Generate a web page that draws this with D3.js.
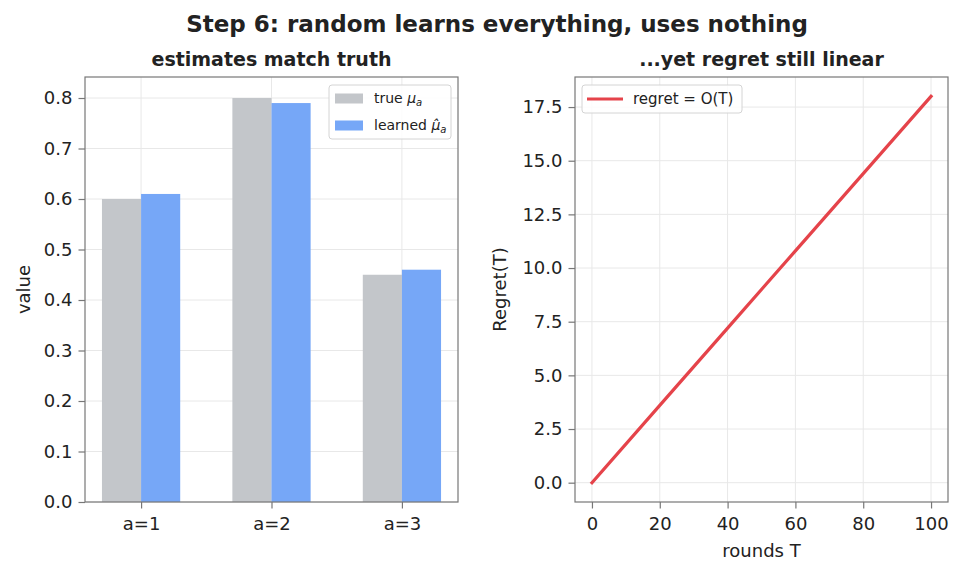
<!DOCTYPE html>
<html>
<head>
<meta charset="utf-8">
<script src="https://cdn.jsdelivr.net/npm/d3@7"></script>
<style>
  body { margin: 0; background: #fff; }
  svg text { font-family: "DejaVu Sans", sans-serif; fill: #222; }
</style>
</head>
<body>
<svg id="chart" width="963" height="575"></svg>
<script>
// bar chart data
const arms = ["a=1", "a=2", "a=3"];
const trueMu = [0.60, 0.80, 0.45];
const learnedMu = [0.61, 0.79, 0.46];
const barTicks = [0.0, 0.1, 0.2, 0.3, 0.4, 0.5, 0.6, 0.7, 0.8];

// regret line data
const rounds = [0, 20, 40, 60, 80, 100];
const regret = [0, 3.6, 7.2, 10.8, 14.4, 18.0];
const regretTicks = [0, 2.5, 5, 7.5, 10, 12.5, 15, 17.5];
const roundTicks = [0, 20, 40, 60, 80, 100];

const grey = "#c3c6ca", blue = "#76a7f7", red = "#e5434a";
const spine = "#777", gridCol = "#e8e8e8";
const tickSize = 18;

const svg = d3.select("#chart");

svg.append("text")
  .attr("x", 497).attr("y", 32)
  .attr("text-anchor", "middle")
  .style("font-size", "23px").style("font-weight", "bold")
  .text("Step 6: random learns everything, uses nothing");

function frame(g, w, h) {
  g.append("rect").attr("width", w).attr("height", h)
    .attr("fill", "none").attr("stroke", spine).attr("stroke-width", 1.2);
}

function styleAxis(g) {
  g.select(".domain").remove();
  g.selectAll(".tick line").attr("stroke", spine).attr("stroke-width", 1.2);
  g.selectAll(".tick text").style("font-size", tickSize + "px").attr("fill", "#222");
}

// ---- left panel: estimates vs truth
const L = { x: 85, y: 77, w: 373, h: 425 };
const left = svg.append("g").attr("transform", `translate(${L.x},${L.y})`);

const x0 = d3.scaleLinear().domain([-0.43, 2.43]).range([0, L.w]);
const y0 = d3.scaleLinear().domain([0, 0.8416]).range([L.h, 0]);
const bw = 0.3;

left.append("g").selectAll("line").data(barTicks).join("line")
  .attr("x1", 0).attr("x2", L.w)
  .attr("y1", d => y0(d)).attr("y2", d => y0(d))
  .attr("stroke", gridCol);
left.append("g").selectAll("line").data(arms).join("line")
  .attr("y1", 0).attr("y2", L.h)
  .attr("x1", (d, i) => x0(i)).attr("x2", (d, i) => x0(i))
  .attr("stroke", gridCol);

left.append("g").selectAll("rect").data(trueMu).join("rect")
  .attr("x", (d, i) => x0(i - bw)).attr("width", x0(bw) - x0(0))
  .attr("y", d => y0(d)).attr("height", d => y0(0) - y0(d))
  .attr("fill", grey);
left.append("g").selectAll("rect").data(learnedMu).join("rect")
  .attr("x", (d, i) => x0(i)).attr("width", x0(bw) - x0(0))
  .attr("y", d => y0(d)).attr("height", d => y0(0) - y0(d))
  .attr("fill", blue);

left.append("g").attr("transform", `translate(0,${L.h})`)
  .call(d3.axisBottom(x0).tickValues([0, 1, 2]).tickFormat(i => arms[i]).tickSize(6.5).tickPadding(9))
  .call(styleAxis);
left.append("g")
  .call(d3.axisLeft(y0).tickValues(barTicks).tickFormat(d3.format(".1f")).tickSize(6.5).tickPadding(6))
  .call(styleAxis);
frame(left, L.w, L.h);

left.append("text")
  .attr("transform", `translate(-55,${L.h / 2}) rotate(-90)`)
  .attr("text-anchor", "middle").style("font-size", "18px").text("value");
left.append("text")
  .attr("x", L.w / 2).attr("y", -11).attr("text-anchor", "middle")
  .style("font-size", "19px").style("font-weight", "bold")
  .text("estimates match truth");

// legend (left)
const lg = left.append("g").attr("transform", `translate(${329 - L.x},${85 - L.y})`);
lg.append("rect").attr("width", 122).attr("height", 54).attr("rx", 3)
  .attr("fill", "#fff").attr("fill-opacity", 0.85).attr("stroke", "#d4d4d4");
const legItems = [
  { c: grey, label: "true ", sym: "\u03bc" },
  { c: blue, label: "learned ", sym: "\u03bc\u0302" }
];
legItems.forEach((it, i) => {
  const row = lg.append("g").attr("transform", `translate(6,${13 + i * 27})`);
  row.append("rect").attr("y", -4.5).attr("width", 28).attr("height", 10).attr("fill", it.c);
  const t = row.append("text").attr("x", 39).attr("y", 5).style("font-size", "14px");
  t.append("tspan").text(it.label);
  t.append("tspan").style("font-style", "italic").text(it.sym);
  t.append("tspan").style("font-style", "italic").style("font-size", "10px").attr("dy", 3).text("a");
});

// ---- right panel: regret
const R = { x: 575, y: 77, w: 373, h: 425 };
const right = svg.append("g").attr("transform", `translate(${R.x},${R.y})`);

const x1 = d3.scaleLinear().domain([-5, 105]).range([0, R.w]);
const y1 = d3.scaleLinear().domain([-0.9, 18.9]).range([R.h, 0]);

right.append("g").selectAll("line").data(regretTicks).join("line")
  .attr("x1", 0).attr("x2", R.w)
  .attr("y1", d => y1(d)).attr("y2", d => y1(d))
  .attr("stroke", gridCol);
right.append("g").selectAll("line").data(roundTicks).join("line")
  .attr("y1", 0).attr("y2", R.h)
  .attr("x1", d => x1(d)).attr("x2", d => x1(d))
  .attr("stroke", gridCol);

const line = d3.line().x((d, i) => x1(rounds[i])).y(d => y1(d));
right.append("path").datum(regret)
  .attr("d", line).attr("fill", "none")
  .attr("stroke", red).attr("stroke-width", 3.2).attr("stroke-linecap", "square");

right.append("g").attr("transform", `translate(0,${R.h})`)
  .call(d3.axisBottom(x1).tickValues(roundTicks).tickFormat(d3.format("d")).tickSize(6.5).tickPadding(9))
  .call(styleAxis);
right.append("g")
  .call(d3.axisLeft(y1).tickValues(regretTicks).tickFormat(d3.format(".1f")).tickSize(6.5).tickPadding(6))
  .call(styleAxis);
frame(right, R.w, R.h);

right.append("text")
  .attr("transform", `translate(-69,${R.h / 2}) rotate(-90)`)
  .attr("text-anchor", "middle").style("font-size", "18px").text("Regret(T)");
right.append("text")
  .attr("x", R.w / 2).attr("y", 557 - R.y).attr("text-anchor", "middle")
  .style("font-size", "18px").text("rounds T");
right.append("text")
  .attr("x", R.w / 2).attr("y", -11).attr("text-anchor", "middle")
  .style("font-size", "19px").style("font-weight", "bold")
  .text("...yet regret still linear");

// legend (right)
const rg = right.append("g").attr("transform", `translate(${582 - R.x},${85 - R.y})`);
rg.append("rect").attr("width", 160).attr("height", 28).attr("rx", 3)
  .attr("fill", "#fff").attr("fill-opacity", 0.85).attr("stroke", "#d4d4d4");
rg.append("line").attr("x1", 5).attr("x2", 41).attr("y1", 14).attr("y2", 14)
  .attr("stroke", red).attr("stroke-width", 3.2);
rg.append("text").attr("x", 51).attr("y", 19).style("font-size", "15px").text("regret = O(T)");
</script>
</body>
</html>
